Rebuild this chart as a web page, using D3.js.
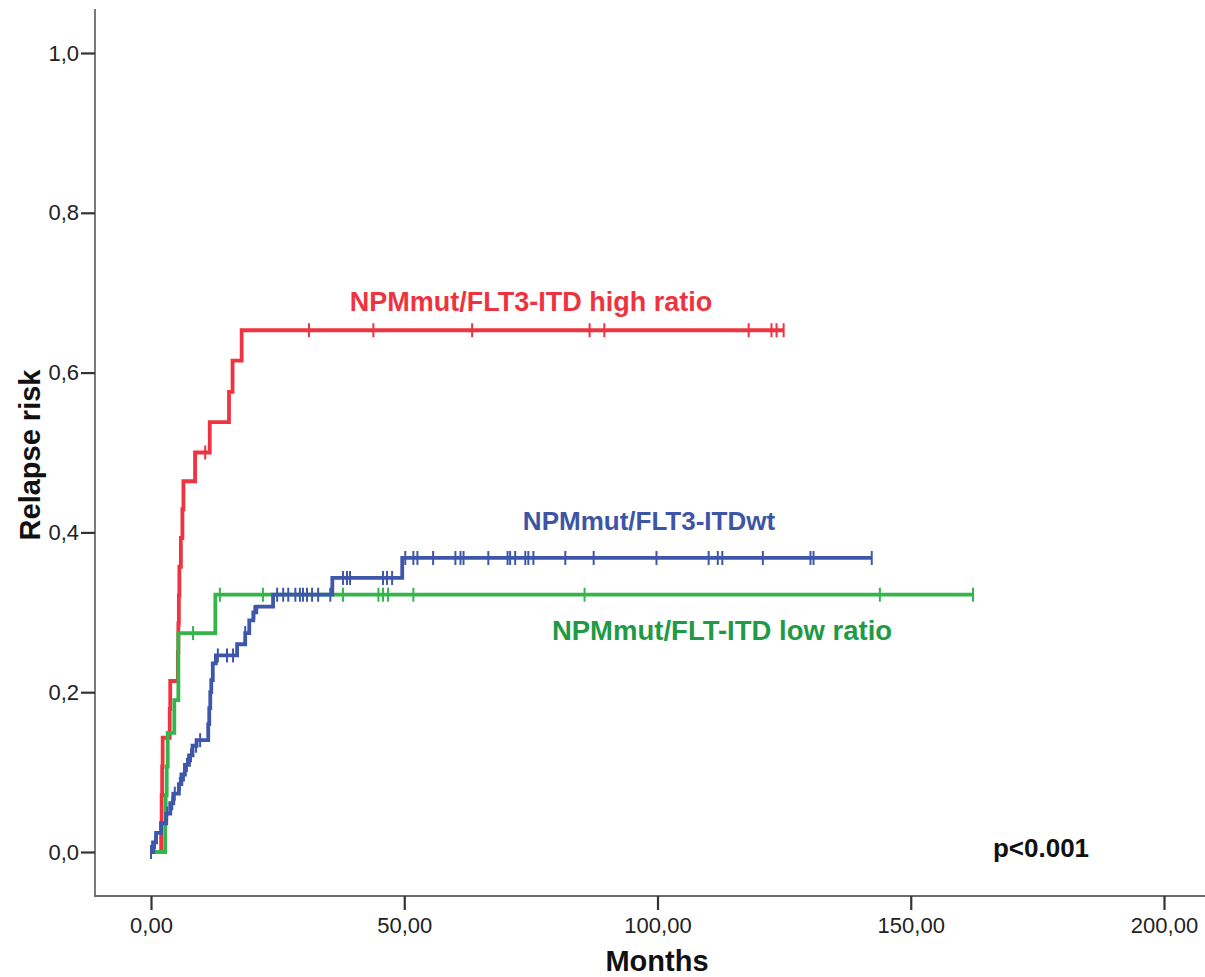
<!DOCTYPE html>
<html>
<head>
<meta charset="utf-8">
<script src="https://cdn.jsdelivr.net/npm/d3@7"></script>
<style>
  html, body { margin: 0; padding: 0; background: #fff; }
  svg { display: block; }
  text { font-family: "Liberation Sans", Arial, sans-serif; }
</style>
</head>
<body>
<svg id="chart" width="1205" height="977"></svg>
<script>
// Cumulative relapse risk (1 - KM) by NPM / FLT3-ITD group.
// Step curves: event times (months) and the risk level reached at each time.
const highTimes = [0, 2.0, 2.1, 2.2, 2.3, 3.7, 3.8, 5.3, 5.4, 5.5, 5.6, 5.9, 6.2, 6.4, 8.7, 11.6, 15.4, 16.1, 17.9];
const highRisk  = [0, 0.036, 0.071, 0.107, 0.143, 0.179, 0.214, 0.25, 0.286, 0.321, 0.357, 0.393, 0.429, 0.464, 0.50, 0.538, 0.576, 0.615, 0.653];
const highCensor = [10.7, 31.2, 43.9, 63.4, 86.6, 89.5, 118.0, 122.5, 123.5];
const highEnd = 124.9;

const wtTimes = [0, 0.4, 1.0, 2.0, 3.0, 3.8, 4.4, 5.5, 6.0, 6.7, 7.5, 8.2, 9.0, 11.3, 11.5, 11.7, 11.9, 12.2, 12.8, 17.0, 18.6, 19.4, 20.2, 20.8, 24.1, 35.8, 49.6];
const wtRisk  = [0, 0.012, 0.024, 0.036, 0.048, 0.061, 0.073, 0.085, 0.097, 0.109, 0.121, 0.133, 0.14, 0.16, 0.18, 0.20, 0.215, 0.236, 0.246, 0.26, 0.274, 0.29, 0.30, 0.307, 0.322, 0.343, 0.368];
const wtCensor = [0, 0.8, 3.2, 4.2, 4.7, 5.7, 6.5, 7.1, 7.9, 8.9, 9.7, 13.2, 15.0, 16.2, 18.6, 20.4,
  24.9, 26.1, 27.1, 28.5, 29.4, 30.0, 30.8, 31.8, 33.0, 35.4,
  37.9, 38.7, 39.3, 45.8, 46.6, 47.6,
  50.2, 51.8, 52.6, 55.7, 60.1, 61.1, 61.7, 66.6, 70.4, 70.9, 71.9, 73.9, 74.5, 75.5, 81.8, 87.4, 99.8,
  110.1, 111.9, 112.8, 120.8, 130.2, 130.8];
const wtEnd = 142.3;

const lowTimes = [0, 2.8, 2.9, 3.1, 3.3, 4.6, 5.4, 12.7];
const lowRisk  = [0, 0.036, 0.071, 0.107, 0.149, 0.19, 0.274, 0.322];
const lowCensor = [8.3, 13.6, 22.1, 37.9, 44.9, 45.8, 46.8, 51.8, 85.6, 143.9];
const lowEnd = 162.3;

const xTicks = [0, 50, 100, 150, 200];
const yTicks = [0, 0.2, 0.4, 0.6, 0.8, 1.0];

const seriesNames = ["NPMmut/FLT3-ITD high ratio", "NPMmut/FLT3-ITDwt", "NPMmut/FLT-ITD low ratio"];
const pValueText = "p<0.001";

const svg = d3.select("#chart");

const x = d3.scaleLinear().domain([0, 200]).range([151, 1164]);
const y = d3.scaleLinear().domain([0, 1]).range([852, 53]);

const axisColor = "#6b6b6b";
const textColor = "#222";

// Frame lines (left and bottom axis)
svg.append("line").attr("x1", 95).attr("x2", 95).attr("y1", 9).attr("y2", 896)
  .attr("stroke", axisColor).attr("stroke-width", 1.8);
svg.append("line").attr("x1", 94).attr("x2", 1205).attr("y1", 896).attr("y2", 896)
  .attr("stroke", axisColor).attr("stroke-width", 1.8);

const fmtY = v => d3.format(".1f")(v).replace(".", ",");
const fmtX = v => d3.format(".2f")(v).replace(".", ",");

const yAxis = svg.append("g").attr("transform", "translate(95,0)")
  .call(d3.axisLeft(y).tickValues(yTicks).tickFormat(fmtY).tickSize(14).tickPadding(2));
const xAxis = svg.append("g").attr("transform", "translate(0,896)")
  .call(d3.axisBottom(x).tickValues(xTicks).tickFormat(fmtX).tickSize(14).tickPadding(7));

[yAxis, xAxis].forEach(g => {
  g.select(".domain").remove();
  g.selectAll(".tick line").attr("stroke", "#333").attr("stroke-width", 2.2);
  g.selectAll(".tick text").attr("fill", textColor).style("font-size", "22px")
    .style("font-family", "'Liberation Sans', Arial, sans-serif");
});

// Axis titles
svg.append("text").attr("x", 657).attr("y", 971).attr("text-anchor", "middle")
  .style("font-size", "29px").style("font-weight", "bold").attr("fill", "#111").text("Months");
svg.append("text").attr("transform", "translate(40,455) rotate(-90)").attr("text-anchor", "middle")
  .style("font-size", "29px").style("font-weight", "bold").attr("fill", "#111").text("Relapse risk");

// Step lines
function stepPoints(times, risk, end) {
  const pts = times.map((t, i) => [t, risk[i]]);
  pts.push([end, risk[risk.length - 1]]);
  return pts;
}
function riskAt(times, risk, t) {
  let v = risk[0];
  for (let i = 0; i < times.length; i++) if (times[i] <= t) v = risk[i];
  return v;
}
const line = d3.line().x(d => x(d[0])).y(d => y(d[1])).curve(d3.curveStepAfter);

const series = [
  { times: highTimes, risk: highRisk, censor: highCensor, end: highEnd, color: "#ef3340" },
  { times: lowTimes, risk: lowRisk, censor: lowCensor, end: lowEnd, color: "#33b54a" },
  { times: wtTimes, risk: wtRisk, censor: wtCensor, end: wtEnd, color: "#3e57ab" }
];

series.forEach(s => {
  const g = svg.append("g");
  g.append("path").datum(stepPoints(s.times, s.risk, s.end))
    .attr("d", line).attr("fill", "none").attr("stroke", s.color)
    .attr("stroke-width", 3.8).attr("stroke-linejoin", "miter");
  const marks = s.censor.concat([s.end]);
  g.selectAll("line.censor").data(marks).enter().append("line")
    .attr("class", "censor")
    .attr("x1", d => x(d)).attr("x2", d => x(d))
    .attr("y1", d => y(riskAt(s.times, s.risk, d)) - 7)
    .attr("y2", d => y(riskAt(s.times, s.risk, d)) + 7)
    .attr("stroke", s.color).attr("stroke-width", 2);
});

// Series labels
svg.append("text").attr("x", 531).attr("y", 311).attr("text-anchor", "middle")
  .style("font-size", "27px").style("font-weight", "bold").attr("fill", "#ee3340").text(seriesNames[0]);
svg.append("text").attr("x", 649).attr("y", 530).attr("text-anchor", "middle")
  .style("font-size", "26px").style("font-weight", "bold").attr("fill", "#3d55a6").text(seriesNames[1]);
svg.append("text").attr("x", 722).attr("y", 640).attr("text-anchor", "middle")
  .style("font-size", "27.5px").style("font-weight", "bold").attr("fill", "#1f9a45").text(seriesNames[2]);
svg.append("text").attr("x", 1041).attr("y", 857).attr("text-anchor", "middle")
  .style("font-size", "26px").style("font-weight", "bold").attr("fill", "#111").text(pValueText);
</script>
</body>
</html>
